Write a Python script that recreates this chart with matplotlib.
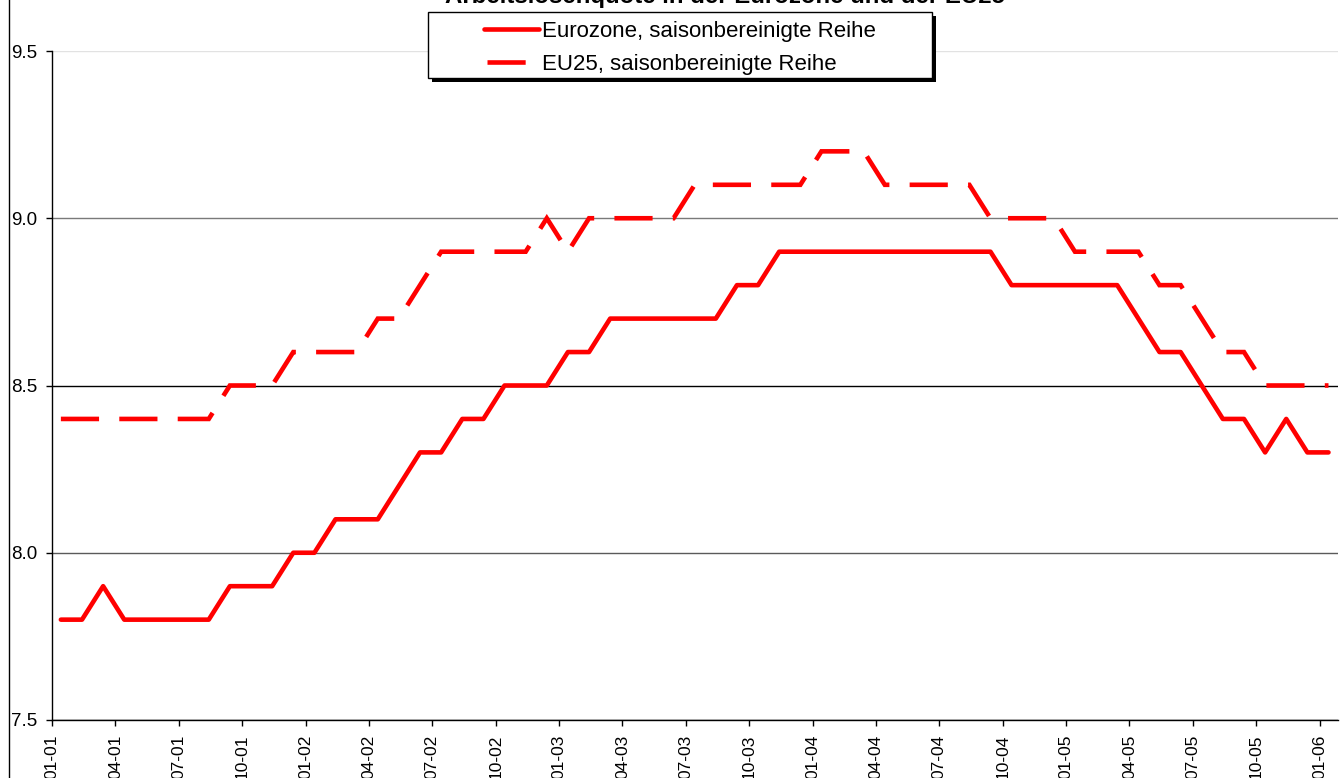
import matplotlib
matplotlib.use("Agg")
import matplotlib.pyplot as plt
from matplotlib.lines import Line2D
from matplotlib.patches import Rectangle
import numpy as np

plt.rcParams['font.family'] = ['Liberation Sans', 'DejaVu Sans']

# ---------------- data ----------------
title = "Arbeitslosenquote in der Eurozone und der EU25"
series_names = ["Eurozone, saisonbereinigte Reihe", "EU25, saisonbereinigte Reihe"]
tick_labels = ["01-01", "04-01", "07-01", "10-01",
               "01-02", "04-02", "07-02", "10-02",
               "01-03", "04-03", "07-03", "10-03",
               "01-04", "04-04", "07-04", "10-04",
               "01-05", "04-05", "07-05", "10-05",
               "01-06"]
# monthly values Jan 2001 .. Jan 2006 (61 months)
eurozone = [7.8, 7.8, 7.9, 7.8, 7.8, 7.8, 7.8, 7.8, 7.9, 7.9,
            7.9, 8.0, 8.0, 8.1, 8.1, 8.1, 8.2, 8.3, 8.3, 8.4,
            8.4, 8.5, 8.5, 8.5, 8.6, 8.6, 8.7, 8.7, 8.7, 8.7,
            8.7, 8.7, 8.8, 8.8, 8.9, 8.9, 8.9, 8.9, 8.9, 8.9,
            8.9, 8.9, 8.9, 8.9, 8.9, 8.8, 8.8, 8.8, 8.8, 8.8,
            8.8, 8.7, 8.6, 8.6, 8.5, 8.4, 8.4, 8.3, 8.4, 8.3,
            8.3]
eu25 = [8.4, 8.4, 8.4, 8.4, 8.4, 8.4, 8.4, 8.4, 8.5, 8.5,
        8.5, 8.6, 8.6, 8.6, 8.6, 8.7, 8.7, 8.8, 8.9, 8.9,
        8.9, 8.9, 8.9, 9.0, 8.9, 9.0, 9.0, 9.0, 9.0, 9.0,
        9.1, 9.1, 9.1, 9.1, 9.1, 9.1, 9.2, 9.2, 9.2, 9.1,
        9.1, 9.1, 9.1, 9.1, 9.0, 9.0, 9.0, 9.0, 8.9, 8.9,
        8.9, 8.9, 8.8, 8.8, 8.7, 8.6, 8.6, 8.5, 8.5, 8.5,
        8.5]
y_ticks = [7.5, 8.0, 8.5, 9.0, 9.5]
grid_colors = ["#000000", "#5a5a5a", "#000000", "#7a7a7a", "#e2e2e2"]

# ---------------- layout ----------------
W, H = 1341, 778
DPI = 100
fig = plt.figure(figsize=(W / DPI, H / DPI), dpi=DPI)
fig.patch.set_facecolor("white")

def fx(px):
    return px / W

def fy(py):
    return 1 - py / H

ax_left, ax_right, ax_top, ax_bottom = 52, 1338, 51, 720
ax = fig.add_axes([fx(ax_left), fy(ax_bottom), (ax_right - ax_left) / W, (ax_bottom - ax_top) / H])

x = np.arange(len(eurozone))
LINE_W = 4.6 * 72 / DPI  # ~4.6 px
DASH = (0, (8.3, 4.4))
ax.plot(x, eurozone, color="#ff0000", lw=LINE_W, solid_capstyle="round",
        solid_joinstyle="round", label=series_names[0], zorder=3)
ax.plot(x, eu25, color="#ff0000", lw=LINE_W, linestyle=DASH,
        dash_capstyle="butt", dash_joinstyle="miter", label=series_names[1], zorder=3)

shift = -0.42
ax.set_xlim(shift, len(x) - 1 + 0.45)
ax.set_ylim(y_ticks[0], y_ticks[-1])

ax.set_xticks(np.arange(0, len(x), 3) + shift)
ax.set_xticklabels(tick_labels, rotation=90, fontsize=12.5, va="top")
ax.set_yticks(y_ticks)
ax.set_yticklabels([f"{v:.1f}" for v in y_ticks], fontsize=13.5)

ax.tick_params(axis="x", direction="out", length=4.3, width=1, pad=6, colors="black")
ax.tick_params(axis="y", direction="out", length=4.3, width=1, pad=6, colors="black")

ax.yaxis.grid(True, linewidth=1)
ax.xaxis.grid(False)
for gl, c in zip(ax.get_ygridlines(), grid_colors):
    gl.set_color(c)
    gl.set_linewidth(1)

for s in ["top", "right"]:
    ax.spines[s].set_visible(False)
ax.spines["left"].set_color("black")
ax.spines["bottom"].set_color("#000000")
ax.spines["left"].set_linewidth(1)
ax.spines["bottom"].set_linewidth(1)
ax.set_facecolor("white")

# chart-area border on the left
fig.add_artist(Line2D([fx(9), fx(9)], [0, 1], color="black", lw=1, transform=fig.transFigure))

# title (cut off at the top of the picture, as in the original)
fig.text(fx(725), fy(3), title, ha="center", va="baseline", fontsize=17.3,
         fontweight="bold", color="black")

# ---------------- legend ----------------
lx0, ly0, lx1, ly1 = 428, 12, 932, 78
fig.add_artist(Rectangle((fx(lx0 + 4), fy(ly1 + 4)), (lx1 - lx0) / W, (ly1 - ly0) / H,
                         transform=fig.transFigure, facecolor="black", edgecolor="black", lw=0, zorder=10))
fig.add_artist(Rectangle((fx(lx0), fy(ly1)), (lx1 - lx0) / W, (ly1 - ly0) / H,
                         transform=fig.transFigure, facecolor="white", edgecolor="black", lw=1, zorder=11))
rows = [29, 62]
fig.add_artist(Line2D([fx(484), fx(539)], [fy(rows[0]), fy(rows[0])], color="#ff0000", lw=LINE_W,
                      solid_capstyle="round", transform=fig.transFigure, zorder=12))
fig.add_artist(Line2D([fx(487), fx(540)], [fy(rows[1]), fy(rows[1])], color="#ff0000", lw=LINE_W,
                      linestyle=DASH, dash_capstyle="butt",
                      transform=fig.transFigure, zorder=12))
for r, name in zip(rows, series_names):
    fig.text(fx(542), fy(r), name, ha="left", va="center_baseline", fontsize=16,
             color="black", zorder=13)

fig.savefig("out.png", dpi=DPI)
